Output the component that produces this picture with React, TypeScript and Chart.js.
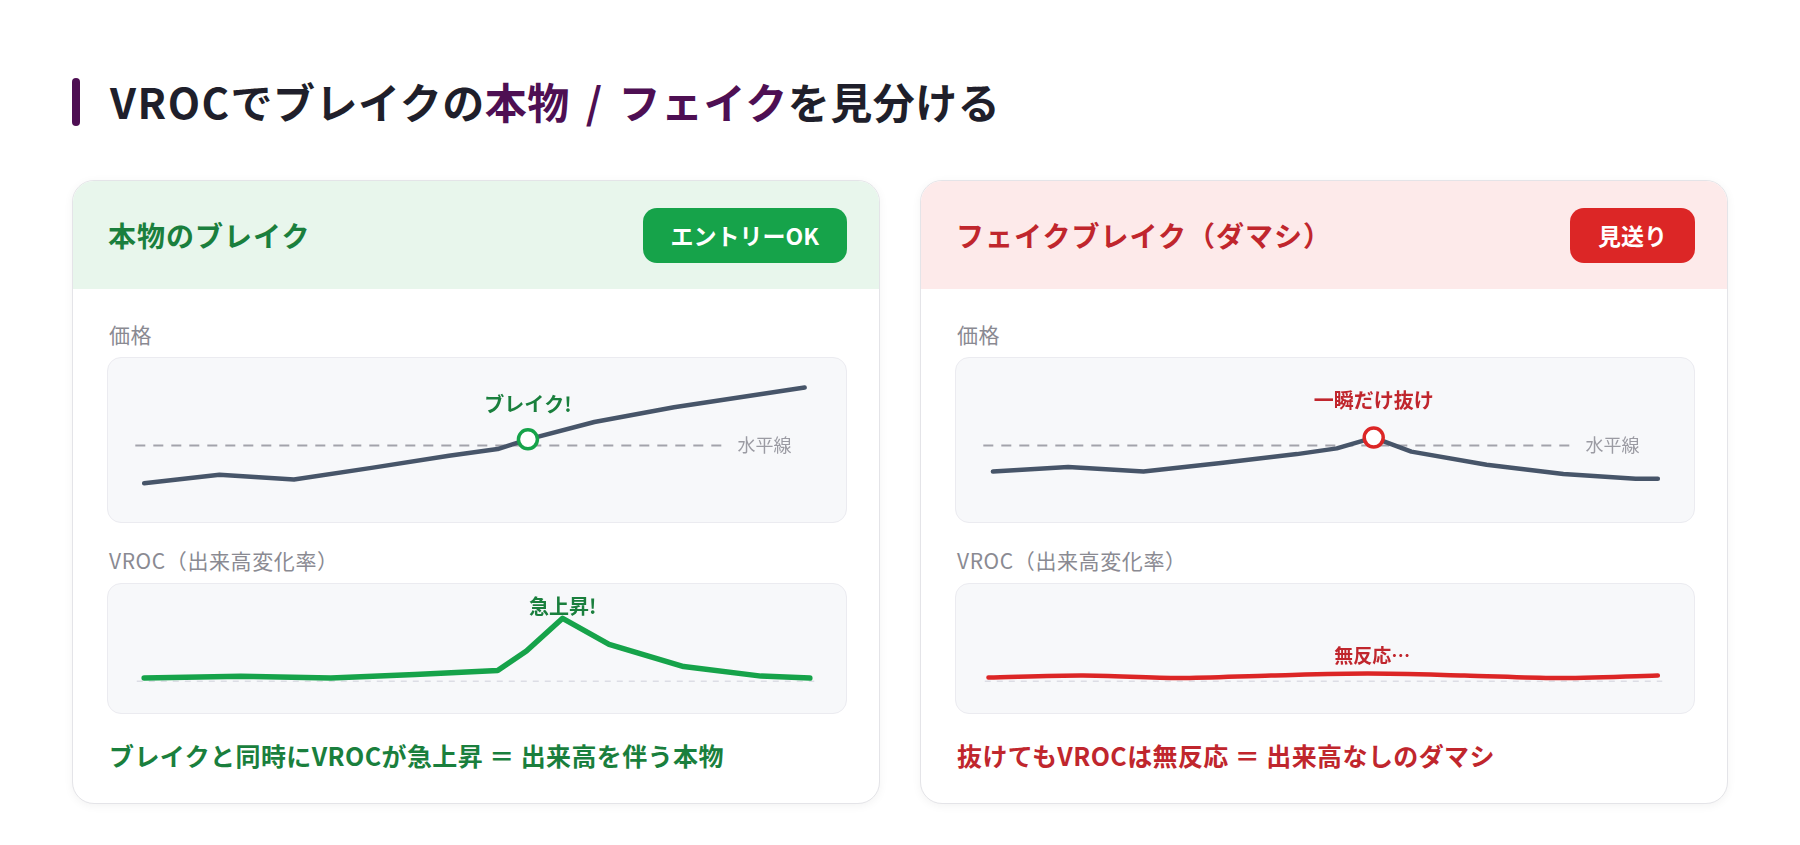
import React, { useEffect, useRef } from "react";
import { Chart, registerables } from "chart.js";

Chart.register(...registerables);

const FONT = '"Noto Sans CJK JP", "Noto Sans", "Noto Sans CJK SC", sans-serif';

// ---- data (time position 0..100, value 0..100) ----
const realPriceX = [4.9, 15.1, 25.2, 35.7, 46.2, 52.8, 56.9, 65.9, 76.7, 94.4];
const realPriceY = [23.6, 28.8, 25.9, 33.0, 40.4, 44.5, 50.4, 61.0, 70.0, 82.0];
const realBreakX = 56.9;
const realBreakY = 50.4;

const fakePriceX = [5.0, 15.2, 25.4, 35.9, 46.2, 51.6, 56.6, 61.7, 71.9, 82.3, 92.1, 95.1];
const fakePriceY = [30.8, 33.6, 30.8, 36.0, 41.4, 44.9, 51.5, 42.9, 34.9, 29.3, 26.3, 26.3];
const fakeBreakX = 56.6;
const fakeBreakY = 51.5;

const levelY = 46.6;
const levelRange = [3.7, 83.8];

const realVrocX = [4.9, 18.0, 30.2, 41.6, 52.8, 56.7, 61.6, 67.9, 78.0, 88.5, 95.1];
const realVrocY = [27.1, 28.4, 27.1, 29.9, 32.9, 48.1, 73.4, 53.2, 36.0, 28.6, 27.1];

const fakeVrocX = [4.4, 17.2, 30.3, 42.7, 55.8, 68.9, 81.3, 95.1];
const fakeVrocY = [27.6, 29.1, 27.1, 29.1, 30.6, 29.1, 27.1, 29.1];

const vrocBaseY = 24.6;
const vrocBaseRange = [3.9, 95.7];

// ---- colors ----
const SLATE = "#475569";
const GREEN = "#16a34a";
const GREEN_TEXT = "#1a7f3d";
const RED = "#dc2626";
const RED_TEXT = "#c0262d";
const PURPLE = "#4e0f53";

type Note = { x: number; y: number; text: string; color: string; size: number; weight: string; align: CanvasTextAlign };

function zip(xs: number[], ys: number[]) {
  return xs.map((x, i) => ({ x, y: ys[i] }));
}

function notesPlugin(notes: Note[]) {
  return {
    id: "notes",
    afterDatasetsDraw(chart: any) {
      const { ctx, scales } = chart;
      ctx.save();
      notes.forEach((n) => {
        ctx.font = `${n.weight} ${n.size}px ${FONT}`;
        ctx.fillStyle = n.color;
        ctx.textAlign = n.align;
        ctx.textBaseline = "middle";
        ctx.fillText(n.text, scales.x.getPixelForValue(n.x), scales.y.getPixelForValue(n.y));
      });
      ctx.restore();
    },
  };
}

function baseOptions(): any {
  return {
    animation: false,
    responsive: false,
    maintainAspectRatio: false,
    devicePixelRatio: 1,
    layout: { padding: 0, autoPadding: false },
    plugins: { legend: { display: false }, tooltip: { enabled: false } },
    events: [],
    scales: {
      x: { type: "linear", min: 0, max: 100, display: false },
      y: { type: "linear", min: 0, max: 100, display: false },
    },
  };
}

function priceConfig(xs: number[], ys: number[], bx: number, by: number, accent: string, label: string, labelColor: string, labelY: number): any {
  return {
    type: "line",
    data: {
      datasets: [
        {
          data: [{ x: bx, y: by }],
          showLine: false,
          pointRadius: 9.5,
          pointBorderWidth: 3.5,
          pointBorderColor: accent,
          pointBackgroundColor: "#ffffff",
          order: 0,
          clip: false,
        },
        {
          data: zip(xs, ys),
          borderColor: SLATE,
          borderWidth: 4.5,
          pointRadius: 0,
          tension: 0,
          borderCapStyle: "round",
          borderJoinStyle: "round",
          order: 1,
          clip: false,
        },
        {
          data: [
            { x: levelRange[0], y: levelY },
            { x: levelRange[1], y: levelY },
          ],
          borderColor: "#a3a3ab",
          borderWidth: 2,
          borderDash: [10, 8],
          pointRadius: 0,
          order: 2,
        },
      ],
    },
    options: baseOptions(),
    plugins: [
      notesPlugin([
        { x: bx, y: labelY, text: label, color: labelColor, size: 20, weight: "bold", align: "center" },
        { x: 85.3, y: levelY, text: "水平線", color: "#9b9ba3", size: 18, weight: "normal", align: "left" },
      ]),
    ],
  };
}

function vrocConfig(xs: number[], ys: number[], color: string, width: number, tension: number, note: Note): any {
  return {
    type: "line",
    data: {
      datasets: [
        {
          data: zip(xs, ys),
          borderColor: color,
          borderWidth: width,
          pointRadius: 0,
          tension,
          borderCapStyle: "round",
          borderJoinStyle: "round",
          order: 0,
          clip: false,
        },
        {
          data: [
            { x: vrocBaseRange[0], y: vrocBaseY },
            { x: vrocBaseRange[1], y: vrocBaseY },
          ],
          borderColor: "#dcdde5",
          borderWidth: 1.5,
          borderDash: [6, 6],
          pointRadius: 0,
          order: 1,
        },
      ],
    },
    options: baseOptions(),
    plugins: [notesPlugin([note])],
  };
}

function ChartBox({ height, config }: { height: number; config: any }) {
  const ref = useRef<HTMLCanvasElement | null>(null);
  useEffect(() => {
    if (!ref.current) return;
    const chart = new Chart(ref.current, config);
    return () => chart.destroy();
  }, []);
  return (
    <div
      style={{
        width: 740,
        height,
        boxSizing: "border-box",
        border: "1px solid #ebebf0",
        borderRadius: 14,
        background: "#f7f8fa",
        overflow: "hidden",
      }}
    >
      <canvas ref={ref} width={738} height={height - 2} style={{ display: "block", width: 738, height: height - 2 }} />
    </div>
  );
}

function Card(props: {
  left: number;
  title: string;
  titleColor: string;
  headerBg: string;
  badge: string;
  badgeBg: string;
  priceCfg: any;
  vrocCfg: any;
  bottom: string;
  bottomColor: string;
}) {
  const labelStyle: React.CSSProperties = {
    fontSize: 21,
    lineHeight: "28px",
    height: 28,
    color: "#8a8a92",
    paddingLeft: 2,
    letterSpacing: 0.6,
  };
  return (
    <div
      style={{
        position: "absolute",
        left: props.left,
        top: 180,
        width: 808,
        height: 624,
        boxSizing: "border-box",
        border: "1px solid #e4e4e8",
        borderRadius: 22,
        background: "#ffffff",
        boxShadow: "0 2px 10px rgba(0,0,0,0.05)",
        overflow: "hidden",
      }}
    >
      <div
        style={{
          height: 108,
          background: props.headerBg,
          display: "flex",
          alignItems: "center",
          justifyContent: "space-between",
          padding: "0 32px 0 35px",
        }}
      >
        <div style={{ fontSize: 28, fontWeight: 700, color: props.titleColor, letterSpacing: 1 }}>{props.title}</div>
        <div
          style={{
            height: 55,
            lineHeight: "55px",
            padding: "0 28px",
            borderRadius: 14,
            background: props.badgeBg,
            color: "#ffffff",
            fontSize: 23,
            fontWeight: 700,
          }}
        >
          {props.badge}
        </div>
      </div>
      <div style={{ padding: "0 32px 0 34px" }}>
        <div style={{ ...labelStyle, marginTop: 31 }}>価格</div>
        <div style={{ marginTop: 9 }}>
          <ChartBox height={166} config={props.priceCfg} />
        </div>
        <div style={{ ...labelStyle, marginTop: 23 }}>VROC（出来高変化率）</div>
        <div style={{ marginTop: 9 }}>
          <ChartBox height={131} config={props.vrocCfg} />
        </div>
        <div
          style={{
            marginTop: 24,
            fontSize: 25,
            lineHeight: "34px",
            fontWeight: 700,
            color: props.bottomColor,
            paddingLeft: 2,
            letterSpacing: 0.4,
          }}
        >
          {props.bottom}
        </div>
      </div>
    </div>
  );
}

export default function App() {
  const realPrice = priceConfig(realPriceX, realPriceY, realBreakX, realBreakY, GREEN, "ブレイク!", GREEN_TEXT, 72);
  const fakePrice = priceConfig(fakePriceX, fakePriceY, fakeBreakX, fakeBreakY, RED, "一瞬だけ抜け", RED_TEXT, 74);
  const realVroc = vrocConfig(realVrocX, realVrocY, GREEN, 5.5, 0, {
    x: 61.6,
    y: 82.4,
    text: "急上昇!",
    color: GREEN_TEXT,
    size: 20,
    weight: "bold",
    align: "center",
  });
  const fakeVroc = vrocConfig(fakeVrocX, fakeVrocY, RED, 4.5, 0.3, {
    x: 56.4,
    y: 44.3,
    text: "無反応…",
    color: RED_TEXT,
    size: 19,
    weight: "bold",
    align: "center",
  });

  return (
    <div
      style={{
        position: "absolute",
        left: 0,
        top: 0,
        width: 1800,
        height: 845,
        background: "#ffffff",
        fontFamily: FONT,
        overflow: "hidden",
      }}
    >
      <div style={{ position: "absolute", left: 72, top: 78, width: 8, height: 48, borderRadius: 4, background: PURPLE }} />
      <div
        style={{
          position: "absolute",
          left: 110,
          top: 74,
          height: 54,
          lineHeight: "54px",
          fontSize: 42,
          fontWeight: 700,
          color: "#1f1f2b",
          whiteSpace: "nowrap",
          letterSpacing: 0.5,
        }}
      >
        <span style={{ letterSpacing: 1.5 }}>VROC</span>でブレイクの
        <span style={{ color: PURPLE }}>
          本物 <span style={{ margin: "0 6px" }}>/</span> フェイク
        </span>
        を見分ける
      </div>

      <Card
        left={72}
        title="本物のブレイク"
        titleColor={GREEN_TEXT}
        headerBg="#e8f6ec"
        badge="エントリーOK"
        badgeBg={GREEN}
        priceCfg={realPrice}
        vrocCfg={realVroc}
        bottom="ブレイクと同時にVROCが急上昇 ＝ 出来高を伴う本物"
        bottomColor={GREEN_TEXT}
      />
      <Card
        left={920}
        title="フェイクブレイク（ダマシ）"
        titleColor={RED_TEXT}
        headerBg="#fdeaea"
        badge="見送り"
        badgeBg={RED}
        priceCfg={fakePrice}
        vrocCfg={fakeVroc}
        bottom="抜けてもVROCは無反応 ＝ 出来高なしのダマシ"
        bottomColor={RED_TEXT}
      />
    </div>
  );
}
